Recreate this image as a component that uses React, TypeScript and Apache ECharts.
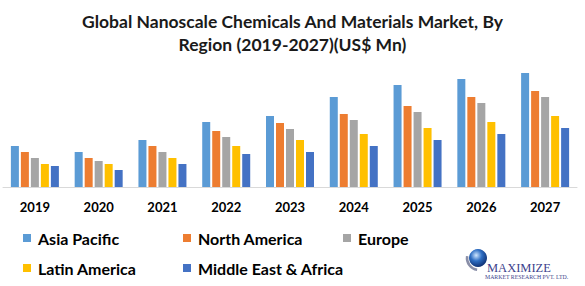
import React, { useEffect, useRef } from "react";
import * as echarts from "echarts";

const years = ["2019", "2020", "2021", "2022", "2023", "2024", "2025", "2026", "2027"];
const regions = ["Asia Pacific", "North America", "Europe", "Latin America", "Middle East & Africa"];
const colors = ["#5B9BD5", "#ED7D31", "#A5A5A5", "#FFC000", "#4472C4"];

const asiaPacific = [41, 35, 47, 65, 71, 90, 102, 108, 114];
const northAmerica = [35, 29, 41, 56, 64, 73, 81, 90, 96];
const europe = [29, 26, 35, 50, 58, 67, 75, 84, 90];
const latinAmerica = [23, 23, 29, 41, 47, 53, 59, 65, 71];
const middleEastAfrica = [21, 17, 23, 33, 35, 41, 47, 53, 59];

const seriesValues = [asiaPacific, northAmerica, europe, latinAmerica, middleEastAfrica];

// legend slot positions: [left, top]
const legendSlots = [
  [23, 230],
  [183, 230],
  [343, 230],
  [23, 260],
  [183, 260],
];

export default function App() {
  const ref = useRef<HTMLDivElement>(null);

  useEffect(() => {
    if (!ref.current) return;
    const chart = echarts.init(ref.current, null, { renderer: "svg" });

    const legends = regions.map((name, i) => ({
      data: [name],
      left: legendSlots[i][0],
      top: legendSlots[i][1],
      icon: "rect",
      itemWidth: 8,
      itemHeight: 8,
      padding: 0,
      textStyle: {
        fontFamily: "Lato",
        fontWeight: "bold",
        fontSize: 16,
        color: "#000",
        padding: [0, 0, 0, 2],
      },
    }));

    chart.setOption({
      animation: false,
      backgroundColor: "#fff",
      title: {
        text: "Global Nanoscale Chemicals And Materials Market, By\nRegion (2019-2027)(US$ Mn)",
        left: "center",
        top: 5,
        textStyle: {
          fontFamily: "Lato",
          fontWeight: "bold",
          fontSize: 17.5,
          lineHeight: 23,
          color: "#1a1a1a",
        },
      },
      legend: legends,
      grid: { left: 3, right: 8, top: 67, bottom: 99, containLabel: false },
      xAxis: {
        type: "category",
        data: years,
        axisLine: { lineStyle: { color: "#D9D9D9", width: 1 } },
        axisTick: { show: false },
        axisLabel: {
          margin: 13,
          fontFamily: "Lato",
          fontWeight: "bold",
          fontSize: 13,
          color: "#000",
        },
      },
      yAxis: {
        type: "value",
        min: 0,
        max: 120,
        show: false,
        splitLine: { show: false },
      },
      series: regions.map((name, i) => ({
        name,
        type: "bar",
        data: seriesValues[i],
        barWidth: 8,
        barGap: "25%",
        itemStyle: { color: colors[i] },
      })),
      graphic: [
        {
          type: "group",
          x: 462,
          y: 244,
          children: [
            {
              type: "arc",
              shape: { cx: 17, cy: 14, r: 12, startAngle: Math.PI * 0.55, endAngle: Math.PI * 1.05 },
              style: { stroke: "#8a8fa8", lineWidth: 2.5, fill: "none" },
            },
            {
              type: "circle",
              shape: { cx: 16, cy: 14, r: 9 },
              style: {
                fill: new echarts.graphic.RadialGradient(0.4, 0.35, 0.7, [
                  { offset: 0, color: "#cfe6ff" },
                  { offset: 0.45, color: "#2f6fc4" },
                  { offset: 1, color: "#0c2a6b" },
                ]),
              },
            },
            {
              type: "text",
              x: 25,
              y: 24,
              style: {
                text: "MAXIMIZE",
                fontFamily: "Liberation Serif",
                fontSize: 12.5,
                fill: "#3d3f8c",
                verticalAlign: "middle",
              },
            },
            {
              type: "text",
              x: 23,
              y: 33,
              style: {
                text: "MARKET RESEARCH PVT. LTD.",
                fontFamily: "Liberation Serif",
                fontSize: 5.8,
                fill: "#3d3f8c",
                verticalAlign: "middle",
              },
            },
          ],
        },
      ],
    });

    return () => chart.dispose();
  }, []);

  return <div ref={ref} style={{ width: 585, height: 286, position: "absolute", left: 0, top: 0 }} />;
}
